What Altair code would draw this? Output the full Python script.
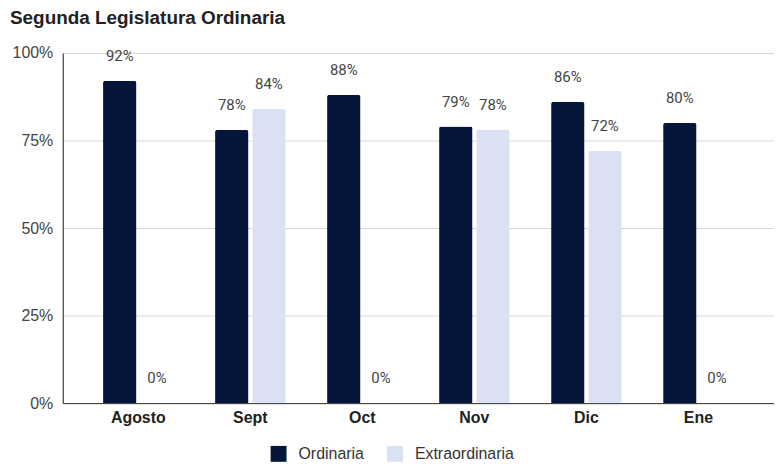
import altair as alt
import pandas as pd

months = ["Agosto", "Sept", "Oct", "Nov", "Dic", "Ene"]
series = ["Ordinaria", "Extraordinaria"]
ordinaria = [92, 78, 88, 79, 86, 80]
extraordinaria = [0, 84, 0, 78, 72, 0]
colors = ["#05163a", "#d9e1f2"]

rows = []
for i, m in enumerate(months):
    rows.append({"mes": m, "serie": series[0], "valor": ordinaria[i] / 100})
    rows.append({"mes": m, "serie": series[1], "valor": extraordinaria[i] / 100})
df = pd.DataFrame(rows)

x = alt.X("mes:N", sort=months, title=None,
          scale=alt.Scale(paddingInner=0.37, paddingOuter=0.36),
          axis=alt.Axis(labelAngle=0, labelFont="Liberation Sans", labelFontSize=16,
                        labelFontWeight="bold", labelColor="#222222", labelPadding=6,
                        ticks=False, tickSize=0, domainColor="#333333", domainWidth=1))
xo = alt.XOffset("serie:N", sort=series, scale=alt.Scale(paddingInner=0.1))
y = alt.Y("valor:Q", title=None,
          scale=alt.Scale(domain=[0, 1], nice=False),
          axis=alt.Axis(values=[0, 0.25, 0.5, 0.75, 1], format=".0%",
                        labelFont="Liberation Sans", labelFontSize=16, labelColor="#444444",
                        labelPadding=10, ticks=False, tickSize=0,
                        domainColor="#222222", domainWidth=1,
                        gridColor="#d6d6d6", gridWidth=1))
color = alt.Color("serie:N", sort=series,
                  scale=alt.Scale(domain=series, range=colors),
                  legend=alt.Legend(title=None, orient="none", direction="horizontal",
                                    legendX=209, legendY=395, symbolType="square",
                                    symbolSize=256, symbolStrokeWidth=0,
                                    labelFont="Liberation Sans", labelFontSize=16,
                                    labelColor="#333333", labelOffset=12,
                                    columnPadding=23, padding=0))

bars = alt.Chart(df).mark_bar(cornerRadiusTopLeft=2, cornerRadiusTopRight=2).encode(
    x=x, xOffset=xo, y=y, color=color)

labels = alt.Chart(df).mark_text(font="Roboto", fontSize=15, color="#444444",
                                 baseline="middle", dy=-25).encode(
    x=alt.X("mes:N", sort=months), xOffset=alt.XOffset("serie:N", sort=series),
    y=alt.Y("valor:Q"), text=alt.Text("valor:Q", format=".0%"))

chart = alt.layer(bars, labels).properties(
    width=715, height=352,
    title=alt.TitleParams("Segunda Legislatura Ordinaria", anchor="start", frame="group",
                          font="Liberation Sans", fontSize=19, fontWeight="bold",
                          color="#222222", dx=-53, offset=17),
    autosize=alt.AutoSizeParams(type="none"),
    padding={"left": 55, "top": 44, "right": 0, "bottom": 60},
).configure_view(stroke=None).configure(background="white")

chart.save("out.html", embed_options={"renderer": "svg", "actions": False})
